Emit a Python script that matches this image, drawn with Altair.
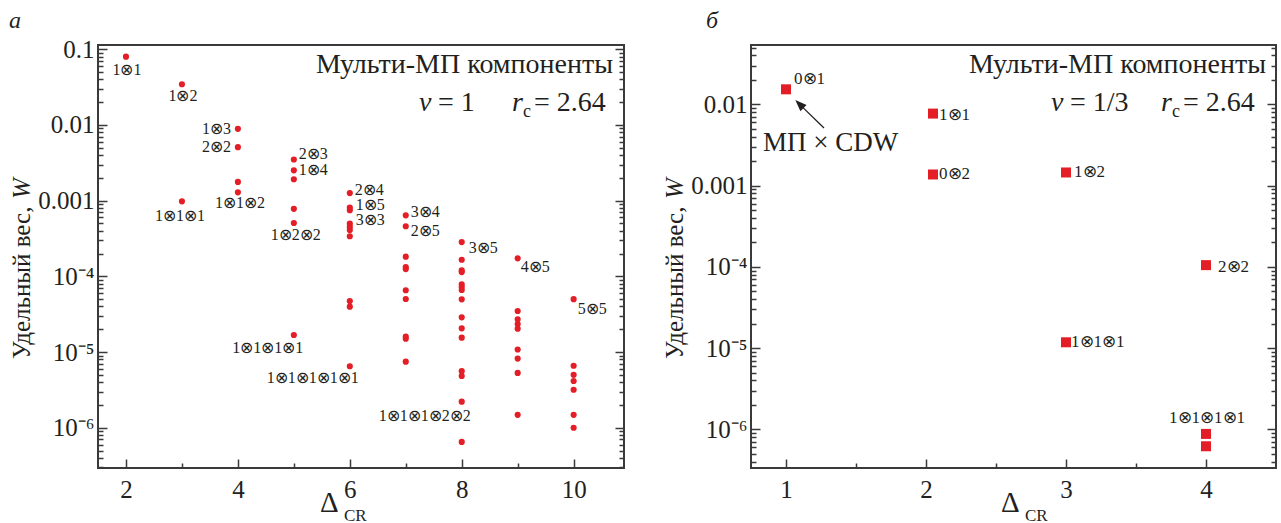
import altair as alt
import pandas as pd

FONT = "Liberation Serif"
RED = "#e41e26"
INK = "#231f20"
FRAME = "#3a3a3a"

# ---------------- panel а : ν = 1 ----------------
a_delta = [2, 3, 4, 5, 6, 7, 8, 9, 10]
a_weight = [
    [0.080],
    [0.0345, 0.00098],
    [0.0089, 0.0051, 0.00177, 0.00129],
    [0.0035, 0.00252, 0.00192, 0.00078, 0.000507, 1.68e-5],
    [0.00126, 0.00081, 0.00075, 0.000497, 0.00045, 0.00041, 0.000339, 4.73e-5, 3.98e-5, 6.5e-6],
    [0.00064, 0.000459, 0.000182, 0.000133, 0.000125, 6.55e-5, 5.02e-5, 1.6e-5, 1.5e-5, 7.47e-6],
    [0.000284, 0.000166, 0.000120, 0.000114, 7.86e-5, 7.24e-5, 6.6e-5, 4.98e-5, 2.88e-5,
     2.06e-5, 1.55e-5, 5.6e-6, 4.83e-6, 2.21e-6, 6.5e-7],
    [0.000173, 3.49e-5, 2.71e-5, 2.35e-5, 2.04e-5, 1.08e-5, 8.2e-6, 5.3e-6, 1.48e-6],
    [5.0e-5, 6.6e-6, 5.0e-6, 4.15e-6, 3.18e-6, 1.48e-6, 1.0e-6],
]
a_lab_delta = [2, 3, 3, 4, 4, 4, 5, 5, 5, 5, 6, 6, 6, 6, 7, 7, 8, 9, 10, 8]
a_lab_weight = [0.080, 0.0345, 0.00098, 0.0089, 0.0051, 0.00129, 0.0035, 0.00252, 0.000507, 1.68e-5,
                0.00126, 0.00081, 0.000497, 6.5e-6, 0.00064, 0.000459, 0.000284, 0.000173, 5.0e-5, 2.21e-6]
a_lab_text = ["1⊗1", "1⊗2", "1⊗1⊗1", "1⊗3", "2⊗2", "1⊗1⊗2", "2⊗3", "1⊗4", "1⊗2⊗2", "1⊗1⊗1⊗1",
              "2⊗4", "1⊗5", "3⊗3", "1⊗1⊗1⊗1⊗1", "3⊗4", "2⊗5", "3⊗5", "4⊗5", "5⊗5", "1⊗1⊗1⊗2⊗2"]

# ---------------- panel б : ν = 1/3 ----------------
b_delta = [1, 2.05, 2.05, 3, 3, 4, 4, 4]
b_weight = [0.0153, 0.00769, 0.00137, 0.00145, 1.18e-5, 0.000105, 8.8e-7, 6.2e-7]
b_lab_delta = [1, 2.05, 2.05, 3, 4, 3, 4]
b_lab_weight = [0.0153, 0.00769, 0.00137, 0.00145, 0.000105, 1.18e-5, 8.8e-7]
b_lab_text = ["0⊗1", "1⊗1", "0⊗2", "1⊗2", "2⊗2", "1⊗1⊗1", "1⊗1⊗1⊗1"]

# label placement styles (align, dx, dy), one per label
a_lab_style = [("center", 1, 13), ("center", 1, 12), ("center", -2, 15), ("right", -7, 0),
               ("right", -7, 0), ("center", 2, 11), ("left", 5, -6), ("left", 5, 0),
               ("center", 2, 12), ("center", -26, 13), ("left", 5, -3), ("left", 6, -3),
               ("left", 6, -4), ("center", -37, 12), ("left", 5, -3), ("left", 5, 5),
               ("left", 7, 6), ("left", 3, 9), ("left", 4, 10), ("center", -37, 14)]
b_lab_style = [("left", 8, -10), ("left", 6, 1), ("left", 6, 0), ("left", 8, 0),
               ("left", 12, 2), ("left", 5, 0), ("center", 1, -16)]


def flatten(deltas, weights):
    xs, ws = [], []
    for d, col in zip(deltas, weights):
        for w in col:
            xs.append(d)
            ws.append(w)
    return pd.DataFrame({"d": xs, "w": ws})


def decades(lo, hi):
    return [10.0 ** e for e in range(-8, 1) if lo <= 10.0 ** e <= hi]


def minors(lo, hi):
    out = []
    for e in range(-8, 1):
        for m in range(2, 10):
            v = m * 10.0 ** e
            if lo <= v <= hi:
                out.append(v)
    return out


E = "round(log(datum.value)/LN10)"
LABEL_EXPR = (f"{E} == -1 ? '0.1' : {E} == -2 ? '0.01' : {E} == -3 ? '0.001' : "
              f"{E} == -4 ? '10\u207b\u2074' : {E} == -5 ? '10\u207b\u2075' : "
              f"{E} == -6 ? '10\u207b\u2076' : ''")


def panel(df, lab_df, lab_style, lab_size, xdom, ydom, xmaj, xmin, W, H, kind, texts, extra=None):
    xs = alt.Scale(type="linear", domain=xdom, nice=False, zero=False)
    ys = alt.Scale(type="log", domain=ydom, nice=False)
    ymaj = decades(*ydom)
    ymin = minors(*ydom)
    base = alt.Chart(df)
    if kind == "circle":
        m = base.mark_circle(size=38, color=RED, opacity=1)
    else:
        m = base.mark_square(size=100, color=RED, opacity=1)
    pts = m.encode(
        x=alt.X("d:Q", scale=xs, axis=alt.Axis(orient="bottom", values=xmaj, format="d", ticks=False,
                                                tickSize=0, domain=False, grid=False, labelFont=FONT,
                                                labelFontSize=25, labelColor=INK, labelPadding=9,
                                                title=None)),
        y=alt.Y("w:Q", scale=ys, axis=alt.Axis(orient="left", values=ymaj, labelExpr=LABEL_EXPR,
                                                ticks=False, tickSize=0, domain=False, grid=False,
                                                labelFont=FONT, labelFontSize=25, labelColor=INK,
                                                labelPadding=4, title=None)),
    )

    def tax(orient, offset, values, size):
        return alt.Axis(orient=orient, offset=offset, values=values, tickSize=size, tickWidth=1.5,
                        tickColor=FRAME, labels=False, domain=False, grid=False, title=None)

    def tl(xaxis, yaxis):
        return base.mark_point(opacity=0).encode(
            x=alt.X("d:Q", scale=xs, axis=xaxis), y=alt.Y("w:Q", scale=ys, axis=yaxis))

    layers = [
        pts,
        tl(tax("top", -H, xmaj, 9), tax("right", -W, ymaj, 9)),
        tl(tax("top", -H, xmin, 5), tax("right", -W, ymin, 5)),
        tl(None, tax("left", -W, ymaj, 9)),
        tl(None, tax("left", -W, ymin, 5)),
    ]
    for i, (al, dx, dy) in enumerate(lab_style):
        layers.append(
            alt.Chart(lab_df.iloc[[i]]).mark_text(align=al, baseline="middle", dx=dx, dy=dy, font=FONT,
                                                  fontSize=lab_size, color=INK).encode(
                x=alt.X("d:Q", scale=xs, axis=None), y=alt.Y("w:Q", scale=ys, axis=None), text="t:N"))
    for t in texts:
        txt, px, py, fs, style, al = t[:6]
        ang = t[6] if len(t) > 6 else 0
        kw = dict(align=al, baseline="alphabetic", font=FONT, fontSize=fs, fontStyle=style, color=INK)
        if ang:
            kw["angle"] = ang
        layers.append(alt.Chart(pd.DataFrame({"t": [txt]})).mark_text(**kw).encode(
            x=alt.value(px), y=alt.value(py), text="t:N"))
    if extra is not None:
        layers.append(extra(xs, ys))
    return alt.layer(*layers).properties(width=W, height=H).resolve_axis(x="independent", y="independent")


df_a = flatten(a_delta, a_weight)
lab_a = pd.DataFrame({"d": a_lab_delta, "w": a_lab_weight, "t": a_lab_text})
df_b = pd.DataFrame({"d": b_delta, "w": b_weight})
lab_b = pd.DataFrame({"d": b_lab_delta, "w": b_lab_weight, "t": b_lab_text})

texts_a = [
    ("а", -89, -17, 24, "italic", "left"),
    ("Мульти-МП компоненты", 515, 28, 28, "normal", "right"),
    ("ν", 321, 66, 28, "italic", "left"),
    ("= 1", 340, 66, 28, "normal", "left"),
    ("r", 414, 66, 28, "italic", "left"),
    ("c", 425, 72, 18, "normal", "left"),
    ("= 2.64", 436, 66, 28, "normal", "left"),
    ("Δ", 222, 467, 29, "normal", "left"),
    ("CR", 246, 476, 17, "normal", "left"),
    ("Удельный вес,", -68, 314, 25, "normal", "left", 270),
    ("W", -68, 154, 25, "italic", "left", 270),
]
texts_b = [
    ("б", -45, -17, 24, "italic", "left"),
    ("Мульти-МП компоненты", 515, 28, 28, "normal", "right"),
    ("ν", 300, 66, 28, "italic", "left"),
    ("= 1/3", 319, 66, 28, "normal", "left"),
    ("r", 410, 66, 28, "italic", "left"),
    ("c", 421, 72, 18, "normal", "left"),
    ("= 2.64", 432, 66, 28, "normal", "left"),
    ("МП × CDW", 12, 106, 27, "normal", "left"),
    ("Δ", 250, 467, 29, "normal", "left"),
    ("CR", 274, 476, 17, "normal", "left"),
    ("Удельный вес,", -68, 314, 25, "normal", "left", 270),
    ("W", -68, 154, 25, "italic", "left", 270),
]

ARROW = "M1.06,1.2 L1.46,2.08 L1.94,1.58 Z M1.70,1.83 L3.8,3.87"


def arrow(xs, ys):
    return alt.Chart(pd.DataFrame({"d": [b_delta[0]], "w": [b_weight[0]]})).mark_point(
        shape=ARROW, size=400, filled=True, fill=INK, stroke=INK, strokeWidth=1.3, opacity=1).encode(
        x=alt.X("d:Q", scale=xs, axis=None), y=alt.Y("w:Q", scale=ys, axis=None))


pa = panel(df_a, lab_a, a_lab_style, 16, [1.5, 10.9], [2.94e-7, 0.114], [2, 4, 6, 8, 10], [3, 5, 7, 9],
           526, 423, "circle", texts_a)
pb = panel(df_b, lab_b, b_lab_style, 17, [0.75, 4.5], [3.35e-7, 0.0537], [1, 2, 3, 4], [1.5, 2.5, 3.5],
           525, 423, "square", texts_b, extra=arrow)

chart = (
    alt.hconcat(pa, pb, spacing=127, bounds="flush")
    .properties(padding={"left": 8, "top": 8, "right": 0, "bottom": 0})
    .configure_view(stroke=FRAME, strokeWidth=2)
    .configure_axis(grid=False)
)
chart.save("out.html", embed_options={"renderer": "svg", "actions": False})
